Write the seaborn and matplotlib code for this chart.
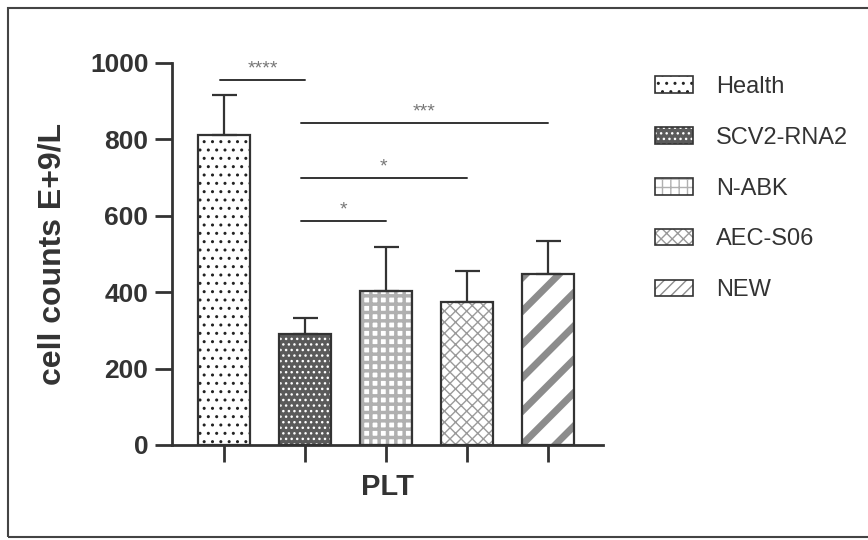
import numpy as np
import pandas as pd
import matplotlib
matplotlib.use("Agg")
import matplotlib.pyplot as plt
import seaborn as sns
from matplotlib.patches import Patch, Rectangle
from matplotlib.legend_handler import HandlerTuple

# ---------------- data ----------------
groups = ["Health", "SCV2-RNA2", "N-ABK", "AEC-S06", "NEW"]
means = [812, 291, 403, 374, 448]
sd = [104, 41, 115, 81, 86]
x_label = "PLT"
y_label = "cell counts E+9/L"
y_ticks = [0, 200, 400, 600, 800, 1000]
sig_pairs = [(0, 1), (1, 4), (1, 3), (1, 2)]
sig_heights = [955, 843, 699, 586]
sig_labels = ["****", "***", "*", "*"]

# ---------------- styles ----------------
face = ["white", "#5a5a5a", "white", "white", "white"]
hatch_col = ["#222222", "white", "#b0b0b0", "#9a9a9a", "#8c8c8c"]
hatches = ["..", "...", "++", "xxx", "/"]
legend_hatches = ["..", "...", "++", "xxx", "///"]
hatch_lw = [1.0, 1.0, 2.5, 1.0, 5.0]
legend_hatch_lw = [1.0, 1.0, 2.5, 1.0, 2.5]
dark = "#333333"

sns.set_theme(style="ticks")
plt.rcParams["font.family"] = ["Liberation Sans", "DejaVu Sans"]
plt.rcParams["hatch.linewidth"] = 1.0

fig = plt.figure(figsize=(8.68, 5.4), dpi=100)
ax = fig.add_axes([172 / 868, 1 - 445 / 540, (603 - 172) / 868, (445 - 63) / 540])

df = pd.DataFrame({"group": groups, "value": means})
sns.barplot(data=df, x="group", y="value", hue="group", palette=face,
            legend=False, width=0.65, saturation=1, ax=ax)

bars = list(ax.patches)
for p, fc, hc, h, hl in zip(bars, face, hatch_col, hatches, hatch_lw):
    p.set_facecolor(fc)
    p.set_edgecolor(hc)
    p.set_linewidth(0)
    p.set_hatch(h)
    if hasattr(p, "set_hatch_linewidth"):
        p.set_hatch_linewidth(hl)
    ax.add_patch(Rectangle((p.get_x(), p.get_y()), p.get_width(), p.get_height(),
                           fill=False, edgecolor=dark, lw=1.6,
                           zorder=p.get_zorder() + 0.1))

xs = [p.get_x() + p.get_width() / 2 for p in bars]
ax.errorbar(xs, means, yerr=[np.zeros(len(sd)), sd], fmt="none", ecolor=dark,
            elinewidth=1.6, capsize=9, capthick=1.6, zorder=1)

# significance brackets
for (i, j), hgt, lab in zip(sig_pairs, sig_heights, sig_labels):
    x1, x2 = xs[i] - 0.05, xs[j]
    ax.plot([x1, x2], [hgt, hgt], color=dark, lw=1.4, clip_on=False)
    ax.text((x1 + x2) / 2, hgt + 18, lab, ha="center", va="baseline",
            fontsize=14, color="#777777", clip_on=False)

ax.set_xlim(-0.642, 4.68)
ax.set_ylim(0, 1000)
ax.set_yticks(y_ticks)
for s in ["top", "right"]:
    ax.spines[s].set_visible(False)
for s in ["left", "bottom"]:
    ax.spines[s].set_color(dark)
    ax.spines[s].set_linewidth(2)
ax.tick_params(axis="y", direction="out", length=12, width=2, colors=dark,
               labelsize=19, pad=5, left=True)
ax.tick_params(axis="x", direction="out", length=12, width=2, colors=dark,
               labelbottom=False, bottom=True)
for t in ax.get_yticklabels():
    t.set_fontweight("bold")
ax.set_ylabel(y_label, fontsize=23, fontweight="bold", color=dark, labelpad=16)
ax.set_xlabel(x_label, fontsize=21, fontweight="bold", color=dark, labelpad=8)

# legend
handles = []
for fc, hc, h, hl in zip(face, hatch_col, legend_hatches, legend_hatch_lw):
    hp = Patch(facecolor=fc, edgecolor=hc, hatch=h, lw=0)
    if hasattr(hp, "set_hatch_linewidth"):
        hp.set_hatch_linewidth(hl)
    handles.append((hp, Patch(fill=False, edgecolor=dark, lw=1.2)))
leg = fig.legend(handles, groups, handler_map={tuple: HandlerTuple(ndivide=1, pad=0)},
                 loc="upper left", bbox_to_anchor=(655 / 868, 1 - 76 / 540),
                 frameon=False, fontsize=17, handlelength=1.6, handleheight=0.7,
                 handletextpad=1.0, labelspacing=1.22, borderpad=0, borderaxespad=0,
                 labelcolor=dark)

# scanned-page frame
fig.add_artist(Rectangle((8 / 868, 3 / 540), 1.0, 1 - 11 / 540,
                         transform=fig.transFigure, fill=False, lw=1.5,
                         edgecolor="#444444"))

fig.savefig("out.png", dpi=100, facecolor="white")
